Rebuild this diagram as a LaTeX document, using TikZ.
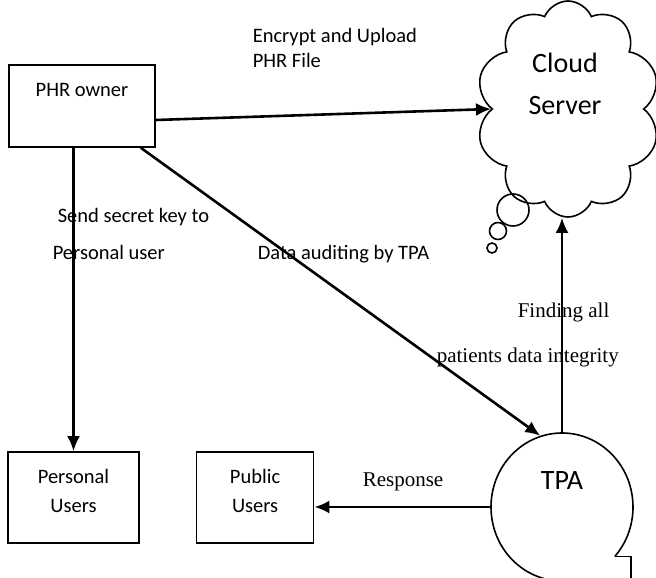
\documentclass[tikz,border=0pt]{standalone}
\usepackage{fontspec}
\setmainfont{Carlito}
\newfontfamily\serifcap{Liberation Serif}
\usepackage{tikz}
\usetikzlibrary{arrows.meta,positioning,shapes.geometric,shapes.symbols,calc}

\begin{document}
\begin{tikzpicture}[x=1pt,y=1pt,>={Latex[length=15pt,width=13pt]},line width=1.6pt]
\tikzstyle{blk}=[draw,align=center,inner sep=0pt,font=\fontsize{20.5}{29}\selectfont]
\tikzstyle{lbl}=[anchor=base west,inner sep=0pt,font=\fontsize{20.5}{25}\selectfont]
\tikzstyle{slbl}=[anchor=base west,inner sep=0pt,font=\serifcap\fontsize{21}{25}\selectfont]
\tikzstyle{flow}=[->,line width=2.6pt]
\useasboundingbox (0,0) rectangle (656,578);
\node[blk,minimum width=146pt,minimum height=82pt,text height=15pt,text depth=33pt] (phr) at (82,472) {PHR owner};
\node[blk,minimum width=131pt,minimum height=91pt,text depth=14pt] (pers) at (73.5,80.5) {Personal\\Users};
\node[blk,minimum width=117pt,minimum height=91pt,text depth=14pt,right=56pt of pers] (pub) {Public\\Users};
\node[ellipse,minimum width=142pt,minimum height=148pt,inner sep=0pt,text height=20pt,text depth=54pt,font=\fontsize{28}{34}\selectfont] (tpa) at (562,71) {TPA};
\node[cloud,draw,cloud puffs=10,cloud puff arc=135,cloud ignores aspect,minimum width=184pt,minimum height=216pt] (cloud) at (568,469) {};
\node[align=center,font=\fontsize{28}{42}\selectfont] (cloudtxt) at (565,494) {Cloud\\Server};
% thought bubbles under the cloud
\draw (513,368) circle[radius=16pt];
\draw (498,347) circle[radius=8.5pt];
\draw (492,330) circle[radius=5pt];
% callout outline of the TPA
\draw ($(tpa.center)+(-42:71pt and 74pt)$) arc[start angle=-42,end angle=255,x radius=71pt,y radius=74pt];
\draw ($(tpa.center)+(-42:71pt and 74pt)$) -- ++(16,0) -- ++(0,-40);
% labels
\node[lbl] (upl1) at (252,535) {Encrypt and Upload};
\node[lbl] (upl2) at (252,510) {PHR File};
\node[lbl] (key1) at (57,355) {Send secret key to};
\node[lbl] (key2) at (52,318) {Personal user};
\node[lbl] (audit) at (257,318) {Data auditing by TPA};
\node[slbl] (find1) at (517,260) {Finding all};
\node[slbl] (find2) at (436,215) {patients data integrity};
\node[slbl] (resp) at (362,91) {Response};
% arrows
\draw[flow] ($(phr.east)+(0,-14)$) -- (cloud.west);
\draw[flow] (pers.north |- phr.south) -- (pers.north);
\draw[flow] ($(phr.south east)+(-15,0)$) -- (tpa.107);
\draw[flow] (tpa.north) -- (tpa.north |- cloud.south);
\draw[flow] (tpa.west) -- (tpa.west -| pub.east);
\end{tikzpicture}
\end{document}
